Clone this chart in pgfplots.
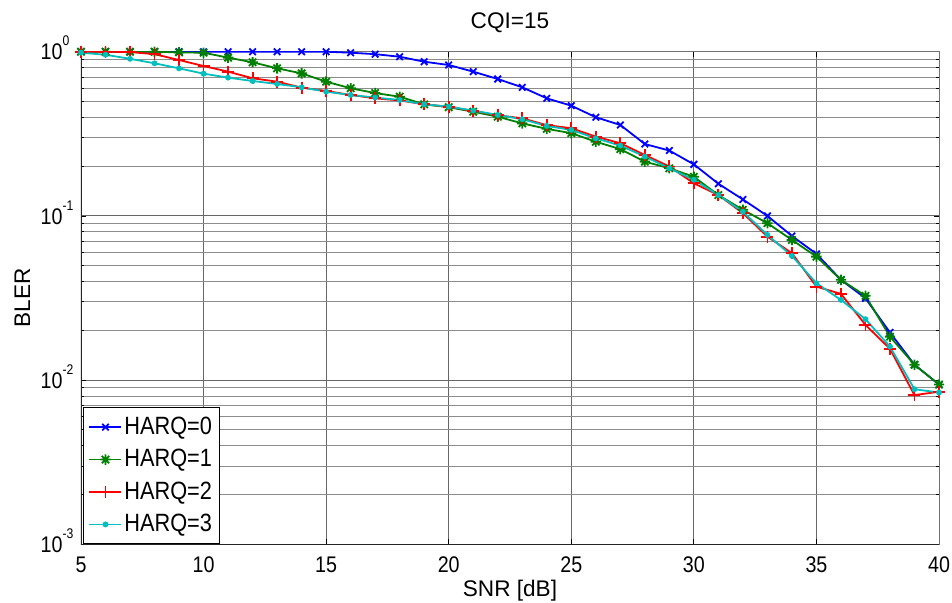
\documentclass[border=0pt]{standalone}
\usepackage{fontspec}
\setmainfont{Liberation Sans}
\newfontfamily\nfont{Liberation Sans}[FakeStretch=0.87]
\usepackage{pgfplots}
\pgfplotsset{compat=1.18}

\definecolor{mblue}{rgb}{0,0,1}
\definecolor{mgreen}{rgb}{0,0.5,0}
\definecolor{mred}{rgb}{1,0,0}
\definecolor{mcyan}{rgb}{0,0.75,0.75}

% matlab style '*' : plus and cross on top of each other
\pgfdeclareplotmark{ast8}{%
  \pgfpathmoveto{\pgfqpoint{-\pgfplotmarksize}{0pt}}%
  \pgfpathlineto{\pgfqpoint{\pgfplotmarksize}{0pt}}%
  \pgfpathmoveto{\pgfqpoint{0pt}{-\pgfplotmarksize}}%
  \pgfpathlineto{\pgfqpoint{0pt}{\pgfplotmarksize}}%
  \pgfpathmoveto{\pgfqpoint{-0.707\pgfplotmarksize}{-0.707\pgfplotmarksize}}%
  \pgfpathlineto{\pgfqpoint{0.707\pgfplotmarksize}{0.707\pgfplotmarksize}}%
  \pgfpathmoveto{\pgfqpoint{-0.707\pgfplotmarksize}{0.707\pgfplotmarksize}}%
  \pgfpathlineto{\pgfqpoint{0.707\pgfplotmarksize}{-0.707\pgfplotmarksize}}%
  \pgfusepathqstroke}

\newcommand{\tenpow}[1]{10\rlap{\raisebox{7pt}{\fontsize{7}{8}\selectfont #1}}}

\begin{document}
\begin{tikzpicture}
\useasboundingbox (-40.5pt,-29.35pt) rectangle (435.5pt,272.15pt);
\begin{axis}[
  scale only axis, width=429pt, height=246.3pt,
  xmin=5, xmax=40, ymode=log, ymin=1e-3, ymax=1,
  xtick={5,10,...,40},
  ytick={1e-3,1e-2,1e-1,1},
  yticklabels={\tenpow{-3},\tenpow{-2},\tenpow{-1},\tenpow{0}},
  minor ytick={2e-3,3e-3,4e-3,5e-3,6e-3,7e-3,8e-3,9e-3,
               2e-2,3e-2,4e-2,5e-2,6e-2,7e-2,8e-2,9e-2,
               2e-1,3e-1,4e-1,5e-1,6e-1,7e-1,8e-1,9e-1},
  grid=both,
  major grid style={black!60, line width=0.45pt},
  minor grid style={black!45, line width=0.45pt},
  axis line style={black!55, line width=0.4pt},
  tick align=inside, major tick length=2.5pt, minor tick length=1.5pt,
  tick style={black, line width=0.4pt},
  /pgf/number format/assume math mode=true,
  tick label style={font=\nfont\fontsize{11.3}{13}\selectfont},
  xticklabel style={inner sep=0pt, anchor=north, yshift=-6.2pt},
  yticklabel style={inner sep=0pt, anchor=base east, xshift=-9pt, yshift=-4.05pt},
  title={CQI=15},
  title style={at={(axis description cs:0.5,1)}, anchor=base, yshift=5.6pt,
    font=\fontsize{11.3}{13}\selectfont},
  xlabel={SNR [dB]},
  xlabel style={at={(axis description cs:0.5,0)}, anchor=base, yshift=-26pt,
    font=\fontsize{11.3}{13}\selectfont},
  ylabel={BLER},
  ylabel style={at={(axis description cs:-0.0594,0.5)}, anchor=base,
    font=\fontsize{11.3}{13}\selectfont},
  legend style={at={(axis description cs:0,0)}, anchor=south west, xshift=0.85pt,
    draw=black, line width=0.6pt, fill=white, inner xsep=2.65pt, inner ysep=3.5pt,
    row sep=4pt, column sep=0pt,
    nodes={inner sep=1pt},
    font=\nfont\fontsize{12.5}{14}\selectfont},
  legend cell align=left,
  legend image code/.code={%
    \draw[mark repeat=2,mark phase=2] plot coordinates {(0pt,0pt) (8pt,0pt) (16pt,0pt)};},
  every axis plot/.append style={line width=0.9pt},
]
\draw[black!85, line width=0.75pt] (rel axis cs:0,1) -- (rel axis cs:0,0) -- (rel axis cs:1,0);

\addplot[color=mblue, mark=x, mark size=2.3pt] coordinates {
(5,1.0) (6,1.0) (7,1.0) (8,1.0) (9,1.0) (10,1.0) (11,1.0) (12,1.0) (13,1.0) (14,1.0)
(15,1.0) (16,0.986) (17,0.966) (18,0.932) (19,0.869) (20,0.830) (21,0.756) (22,0.682)
(23,0.607) (24,0.520) (25,0.469) (26,0.399) (27,0.358) (28,0.274) (29,0.250) (30,0.206)
(31,0.157) (32,0.126) (33,0.100) (34,0.0755) (35,0.0587) (36,0.0408) (37,0.0315)
(38,0.0195) (39,0.0124) (40,0.0094)};
\addlegendentry{HARQ=0}

\addplot[color=mgreen, mark=ast8, mark size=2.6pt] coordinates {
(5,1.0) (6,1.0) (7,1.0) (8,1.0) (9,0.99) (10,0.986) (11,0.92) (12,0.862) (13,0.792)
(14,0.738) (15,0.657) (16,0.599) (17,0.560) (18,0.532) (19,0.478) (20,0.459) (21,0.431)
(22,0.402) (23,0.366) (24,0.339) (25,0.319) (26,0.283) (27,0.255) (28,0.214) (29,0.195)
(30,0.173) (31,0.134) (32,0.109) (33,0.0903) (34,0.0714) (35,0.0565) (36,0.0408)
(37,0.0326) (38,0.0184) (39,0.0124) (40,0.0094)};
\addlegendentry{HARQ=1}

\addplot[color=mred, mark=+, mark size=3pt] coordinates {
(5,1.0) (6,1.0) (7,0.995) (8,0.966) (9,0.89) (10,0.818) (11,0.756) (12,0.689) (13,0.657)
(14,0.604) (15,0.577) (16,0.545) (17,0.520) (18,0.505) (19,0.478) (20,0.462) (21,0.436)
(22,0.410) (23,0.393) (24,0.357) (25,0.342) (26,0.304) (27,0.277) (28,0.235) (29,0.200)
(30,0.158) (31,0.134) (32,0.104) (33,0.0748) (34,0.0593) (35,0.0371) (36,0.0335)
(37,0.0217) (38,0.0155) (39,0.0081) (40,0.0085)};
\addlegendentry{HARQ=2}

\addplot[color=mcyan, mark=*, mark size=1pt] coordinates {
(5,0.986) (6,0.958) (7,0.905) (8,0.85) (9,0.792) (10,0.735) (11,0.695) (12,0.663)
(13,0.636) (14,0.607) (15,0.571) (16,0.545) (17,0.526) (18,0.508) (19,0.478) (20,0.463)
(21,0.438) (22,0.412) (23,0.388) (24,0.353) (25,0.334) (26,0.297) (27,0.268) (28,0.23)
(29,0.195) (30,0.166) (31,0.134) (32,0.106) (33,0.0766) (34,0.0571) (35,0.0389)
(36,0.0308) (37,0.0235) (38,0.016) (39,0.0088) (40,0.0084)};
\addlegendentry{HARQ=3}
\end{axis}
\end{tikzpicture}
\end{document}
